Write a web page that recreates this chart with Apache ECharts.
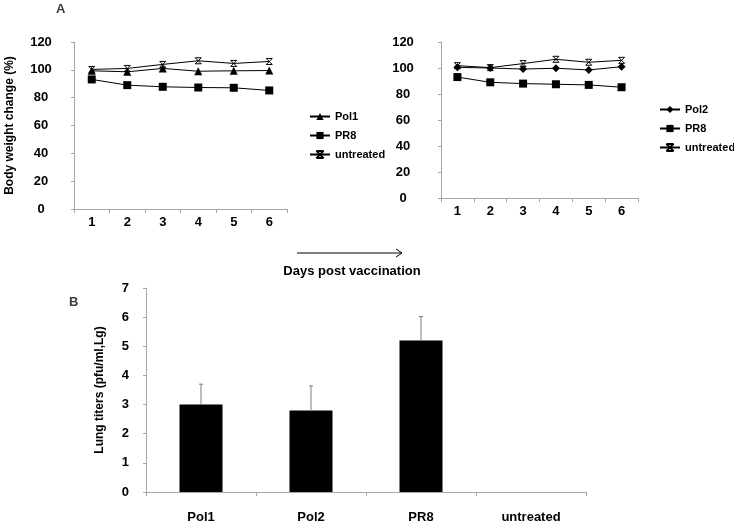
<!DOCTYPE html>
<html>
<head>
<meta charset="utf-8">
<script src="https://cdn.jsdelivr.net/npm/echarts@6/dist/echarts.min.js"></script>
<style>
  html, body { margin: 0; padding: 0; background: #fff; }
  #main { width: 734px; height: 525px; }
</style>
</head>
<body>
<div id="main"></div>
<script>
// data
var days = ['1', '2', '3', '4', '5', '6'];
var pol1 = [99.3, 98.6, 101, 99, 99.3, 99.5];
var pr8Left = [93.1, 89, 87.8, 87.3, 87.1, 85.2];
var untreatedLeft = [100.3, 101, 103.9, 106.5, 104.6, 106];
var pol2 = [100.5, 100, 99.2, 99.8, 98.5, 101];
var pr8Right = [93, 89, 88, 87.5, 87, 85.2];
var untreatedRight = [101.8, 100.3, 103.4, 106.7, 104.4, 105.9];
var groups = ['Pol1', 'Pol2', 'PR8', 'untreated'];
var titers = [3.0, 2.8, 5.2, 0];
var titerErr = [0.7, 0.84, 0.82, 0];

var font = 'Liberation Sans, Arial, sans-serif';
var axisGray = '#a6a6a6';
var starPath = 'path://M0,0L10,10M10,0L0,10M0,0L10,0M0,10L10,10';

function catAxis(gi, data, margin) {
    return {
        type: 'category', gridIndex: gi, data: data, boundaryGap: true,
        axisLine: { lineStyle: { color: axisGray } },
        axisTick: { show: true, length: 4, lineStyle: { color: axisGray } },
        axisLabel: { color: '#000', fontWeight: 'bold', fontSize: 13, fontFamily: font, margin: margin }
    };
}
function valAxis(gi, max, interval, align, margin) {
    return {
        type: 'value', gridIndex: gi, min: 0, max: max, interval: interval,
        splitLine: { show: false },
        axisLine: { show: true, lineStyle: { color: axisGray } },
        axisTick: { show: true, length: 3, lineStyle: { color: axisGray } },
        axisLabel: { color: '#000', fontWeight: 'bold', fontSize: 13, fontFamily: font, align: align, margin: margin }
    };
}
function lineSeries(name, data, symbol, size, axis) {
    var star = symbol === starPath;
    return {
        name: name, type: 'line', data: data, xAxisIndex: axis, yAxisIndex: axis,
        symbol: symbol, symbolSize: size, showSymbol: true,
        lineStyle: { color: '#000', width: 1 },
        itemStyle: { color: star ? '#fff' : '#000', borderColor: '#000', borderWidth: star ? 1 : 0 },
        emphasis: { disabled: true }, animation: false
    };
}
function legendBox(left, top, names) {
    return {
        orient: 'vertical', left: left, top: top, itemWidth: 20, itemHeight: 9, itemGap: 8,
        data: names,
        textStyle: { fontSize: 11, fontWeight: 'bold', fontFamily: font, color: '#000' }
    };
}

var chart = echarts.init(document.getElementById('main'));
var option = {
    animation: false,
    title: [
        { text: 'A', left: 51, top: -2, textStyle: { fontSize: 13, fontWeight: 'bold', fontFamily: font } },
        { text: 'B', left: 64, top: 291, textStyle: { fontSize: 13, fontWeight: 'bold', fontFamily: font } }
    ],
    grid: [
        { left: 74, top: 42, width: 213, height: 167 },
        { left: 441, top: 42, width: 197, height: 156 },
        { left: 146, top: 288, width: 440, height: 204 }
    ],
    legend: [
        legendBox(304, 106, ['Pol1', 'PR8', 'untreated']),
        legendBox(654, 99, ['Pol2', 'PR8', 'untreated'])
    ],
    xAxis: [
        catAxis(0, days, 7),
        catAxis(1, days, 7),
        catAxis(2, groups, 19)
    ],
    yAxis: [
        Object.assign(valAxis(0, 120, 20, 'center', 33), {
            name: 'Body weight change (%)', nameLocation: 'middle', nameRotate: 90, nameGap: 58,
            nameTextStyle: { fontSize: 12, fontWeight: 'bold', fontFamily: font, color: '#000' }
        }),
        valAxis(1, 120, 20, 'center', 38),
        Object.assign(valAxis(2, 7, 1, 'right', 17), {
            name: 'Lung titers (pfu/ml,Lg)', nameLocation: 'middle', nameRotate: 90, nameGap: 40,
            nameTextStyle: { fontSize: 12, fontWeight: 'bold', fontFamily: font, color: '#000' }
        })
    ],
    series: [
        lineSeries('Pol1', pol1, 'triangle', 8, 0),
        lineSeries('PR8', pr8Left, 'rect', 8, 0),
        lineSeries('untreated', untreatedLeft, starPath, 6, 0),
        lineSeries('Pol2', pol2, 'diamond', 8, 1),
        lineSeries('PR8', pr8Right, 'rect', 8, 1),
        lineSeries('untreated', untreatedRight, starPath, 6, 1),
        {
            name: 'titers', type: 'bar', xAxisIndex: 2, yAxisIndex: 2,
            data: titers, barWidth: 43, itemStyle: { color: '#000' }
        },
        {
            name: 'err', type: 'custom', xAxisIndex: 2, yAxisIndex: 2, z: 5,
            data: titers.map(function (v, i) { return [i, v, titerErr[i]]; }),
            renderItem: function (params, api) {
                var x = api.value(0), v = api.value(1), e = api.value(2);
                if (!e) return;
                var p0 = api.coord([x, v]);
                var p1 = api.coord([x, v + e]);
                return {
                    type: 'group',
                    children: [
                        { type: 'line', shape: { x1: p0[0], y1: p0[1], x2: p1[0], y2: p1[1] }, style: { stroke: '#7f7f7f', lineWidth: 1 } },
                        { type: 'line', shape: { x1: p1[0] - 2, y1: p1[1], x2: p1[0] + 2, y2: p1[1] }, style: { stroke: '#7f7f7f', lineWidth: 1 } }
                    ]
                };
            }
        }
    ],
    graphic: [
        { type: 'line', shape: { x1: 297, y1: 253, x2: 402, y2: 253 }, style: { stroke: '#000', lineWidth: 1 } },
        { type: 'polyline', shape: { points: [[396, 249], [402, 253], [396, 257]] }, style: { stroke: '#000', fill: null, lineWidth: 1 } },
        {
            type: 'text', x: 352, y: 271,
            style: { text: 'Days post vaccination', fontSize: 13, fontWeight: 'bold', fontFamily: font, fill: '#000', align: 'center', verticalAlign: 'middle' }
        }
    ]
};
chart.setOption(option);
</script>
</body>
</html>
